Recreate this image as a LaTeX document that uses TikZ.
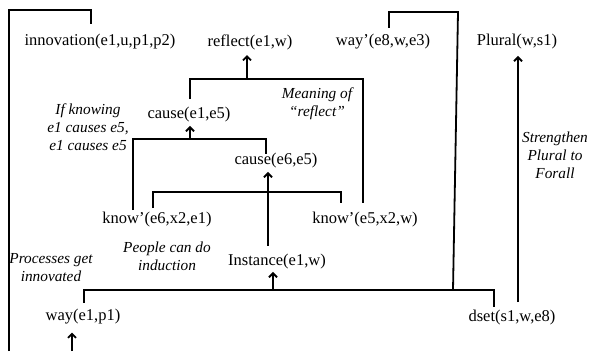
\documentclass[tikz,border=0pt]{standalone}
\usepackage{fontspec}
\setmainfont{Liberation Serif}
\usetikzlibrary{arrows.meta}
\begin{document}
\begin{tikzpicture}[x=1pt,y=-1pt,
 lbl/.style={font=\fontsize{16.5}{19}\selectfont, inner sep=0pt, outer sep=0pt},
 note/.style={font=\fontsize{15.3}{18}\selectfont\itshape, align=center, inner sep=0pt},
 ln/.style={line width=1.8pt, line join=miter},
 arr/.style={ln, -{Straight Barb[length=4pt,width=8pt]}}]
\useasboundingbox (0,0) rectangle (591,351);
% nodes
\node[lbl] (innov)  at (100,42)  {innovation(e1,u,p1,p2)};
\node[lbl] (reflect) at (250,42) {reflect(e1,w)};
\node[lbl] (wayp)   at (383,42)  {way’(e8,w,e3)};
\node[lbl] (plural) at (517,42)  {Plural(w,s1)};
\node[lbl] (cause1) at (189,115) {cause(e1,e5)};
\node[lbl] (cause2) at (276,161) {cause(e6,e5)};
\node[lbl] (know1)  at (157,220) {know’(e6,x2,e1)};
\node[lbl] (know2)  at (365,220) {know’(e5,x2,w)};
\node[lbl] (inst)   at (277,262) {Instance(e1,w)};
\node[lbl] (way)    at (83,317)  {way(e1,p1)};
\node[lbl] (dset)   at (512,318) {dset(s1,w,e8)};
% notes
\node[note] (ifk)    at (88,127)  {If knowing\\e1 causes e5,\\e1 causes e5};
\node[note] (mean)   at (317,104) {Meaning of\\“reflect”};
\node[note] (stren)  at (555,155) {Strengthen\\Plural to\\Forall};
\node[note] (proc)   at (51,268)  {Processes get\\innovated};
\node[note] (people) at (167,256) {People can do\\induction};
% coordinates
\coordinate (bl) at (9,351);
\coordinate (tl) at (9,10);
\coordinate (tr) at (91,10);
\coordinate (wb) at (72,351);
\coordinate (b1l) at (84,290);
\coordinate (b1r) at (494,290);
\coordinate (m1) at (273,290);
\coordinate (b1u) at (453,290);
\coordinate (b1t) at (458,12);
\coordinate (b1w) at (389,12);
\coordinate (a2) at (268,0);
\coordinate (b2l) at (153,192);
\coordinate (b2r) at (341,192);
\coordinate (b3l) at (133,139);
\coordinate (b3r) at (266,139);
\coordinate (m3) at (190,139);
\coordinate (b4l) at (190,79);
\coordinate (b4r) at (363,79);
\coordinate (m4) at (247,79);
\coordinate (pb) at (518,0);
% connectors
\draw[ln, shorten >=10.5pt] (bl) -- (tl) -- (tr) -- (tr |- innov.north);
\draw[arr, shorten >=8pt] (wb) -- (wb |- way.south);
\draw[ln, shorten <=7pt, shorten >=3.5pt] (b1l |- way.north) -- (b1l) -- (b1r) -- (b1r |- dset.north);
\draw[ln, shorten >=6.5pt] (b1u) -- (b1t) -- (b1w) -- (b1w |- wayp.north);
\draw[arr, shorten >=2.5pt] (m1) -- (m1 |- inst.south);
\draw[arr, shorten <=9pt, shorten >=3.5pt] (a2 |- inst.north) -- (a2 |- cause2.south);
\draw[ln, shorten <=4.5pt, shorten >=9.5pt] (b2l |- know1.north) -- (b2l) -- (b2r) -- (b2r |- know2.north);
\draw[ln, shorten <=2.5pt] (b3l |- know1.north) -- (b3l) -- (b3r) -- (b3r |- cause2.north);
\draw[arr, shorten >=3.5pt] (m3) -- (m3 |- cause1.south);
\draw[ln, shorten <=8.5pt, shorten >=9.5pt] (b4l |- cause1.north) -- (b4l) -- (b4r) -- (b4r |- know2.north);
\draw[arr, shorten >=5.5pt] (m4) -- (m4 |- reflect.south);
\draw[arr, shorten <=8.5pt, shorten >=6.5pt] (pb |- dset.north) -- (pb |- plural.south);
\end{tikzpicture}
\end{document}
